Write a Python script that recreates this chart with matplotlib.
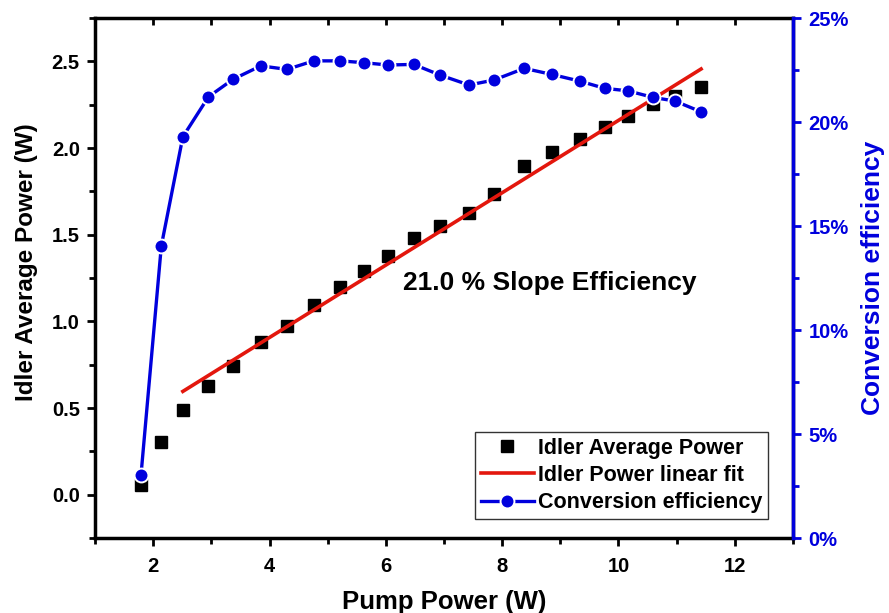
import numpy as np
import matplotlib.pyplot as plt
from matplotlib.ticker import MultipleLocator, FuncFormatter

plt.rcParams['font.family'] = ['Liberation Sans', 'DejaVu Sans']
plt.rcParams['font.weight'] = 'bold'

# pump power (W)
pump = [1.79, 2.14, 2.51, 2.95, 3.37, 3.85, 4.30, 4.76, 5.22, 5.63, 6.04, 6.48,
        6.93, 7.43, 7.86, 8.38, 8.85, 9.33, 9.76, 10.16, 10.60, 10.97, 11.42]
# idler average power (W)
idler = [0.058, 0.302, 0.486, 0.629, 0.744, 0.879, 0.971, 1.092, 1.200, 1.293, 1.379, 1.481,
         1.548, 1.625, 1.737, 1.898, 1.979, 2.054, 2.122, 2.187, 2.256, 2.302, 2.350]
# conversion efficiency (%)
conv = [3.02, 14.05, 19.29, 21.21, 22.05, 22.70, 22.53, 22.94, 22.94, 22.85, 22.74, 22.77,
        22.26, 21.78, 22.02, 22.58, 22.29, 21.97, 21.62, 21.50, 21.18, 21.01, 20.49]
# linear fit end points
fit_x = [2.51, 11.42]
fit_y = [0.596, 2.456]

blue = '#0000dd'
red = '#e3170d'

fig = plt.figure(figsize=(8.89, 6.13), dpi=100)
ax = fig.add_axes([0.1069, 0.1223, 0.7851, 0.8483])
ax2 = ax.twinx()

h1, = ax.plot(pump, idler, 's', color='black', markersize=8.5, linestyle='none',
              label='Idler Average Power', zorder=3)
h2, = ax.plot(fit_x, fit_y, '-', color=red, lw=2.6, label='Idler Power linear fit', zorder=4)
h3, = ax2.plot(pump, conv, '-o', color=blue, lw=2.4, markersize=10,
               markeredgecolor='white', markeredgewidth=1.4, markerfacecolor=blue,
               label='Conversion efficiency', zorder=5)

ax.text(6.30, 1.22, '21.0 % Slope Efficiency', fontsize=19, fontweight='bold',
        ha='left', va='center')

ax.set_xlim(1, 13)
ax.set_ylim(-0.25, 2.75)
ax2.set_ylim(0, 25)

ax.xaxis.set_major_locator(MultipleLocator(2))
ax.xaxis.set_minor_locator(MultipleLocator(1))
ax.yaxis.set_major_locator(MultipleLocator(0.5))
ax.yaxis.set_minor_locator(MultipleLocator(0.25))
ax.yaxis.set_major_formatter(FuncFormatter(lambda v, p: f'{v:.1f}'))
ax2.yaxis.set_major_locator(MultipleLocator(5))
ax2.yaxis.set_minor_locator(MultipleLocator(2.5))
ax2.yaxis.set_major_formatter(FuncFormatter(lambda v, p: f'{v:.0f}%'))

ax.tick_params(which='both', direction='out', width=2, labelsize=14.5, top=True, pad=5)
ax.tick_params(axis='x', which='both', pad=8)
ax.tick_params(which='major', length=6)
ax.tick_params(which='minor', length=4)
ax2.tick_params(which='both', direction='out', width=2, colors=blue, labelsize=14.5, pad=5)
ax2.tick_params(which='major', length=6)
ax2.tick_params(which='minor', length=4)

for sp in ax.spines.values():
    sp.set_linewidth(2.5)
for sp in ax2.spines.values():
    sp.set_linewidth(2.5)
ax2.spines['right'].set_color(blue)
ax2.spines['left'].set_visible(False)
ax2.spines['top'].set_visible(False)
ax2.spines['bottom'].set_visible(False)

# inward mirror ticks on top
for t in ax.xaxis.get_major_ticks() + ax.xaxis.get_minor_ticks():
    t.tick2line.set_marker(3)
    t.tick2line.set_markersize(5)

ax.set_xlabel('Pump Power (W)', fontsize=18.5, fontweight='bold', labelpad=10)
ax.set_ylabel('Idler Average Power (W)', fontsize=17.5, fontweight='bold')
ax.yaxis.set_label_coords(-0.082, 0.531)
ax2.set_ylabel('Conversion efficiency', fontsize=19, fontweight='bold', color=blue, labelpad=9)

for lab in ax.get_xticklabels() + ax.get_yticklabels() + ax2.get_yticklabels():
    lab.set_fontweight('bold')

leg = ax2.legend(handles=[h1, h2, h3], loc='lower right', bbox_to_anchor=(0.964, 0.0365),
                 borderaxespad=0, prop={'weight': 'bold', 'size': 15.5}, frameon=True,
                 fancybox=False, edgecolor='black', handlelength=2.45, handletextpad=0.2,
                 borderpad=0.26, labelspacing=0.3)
leg.get_frame().set_linewidth(1.0)

fig.savefig('out.png', dpi=100)
